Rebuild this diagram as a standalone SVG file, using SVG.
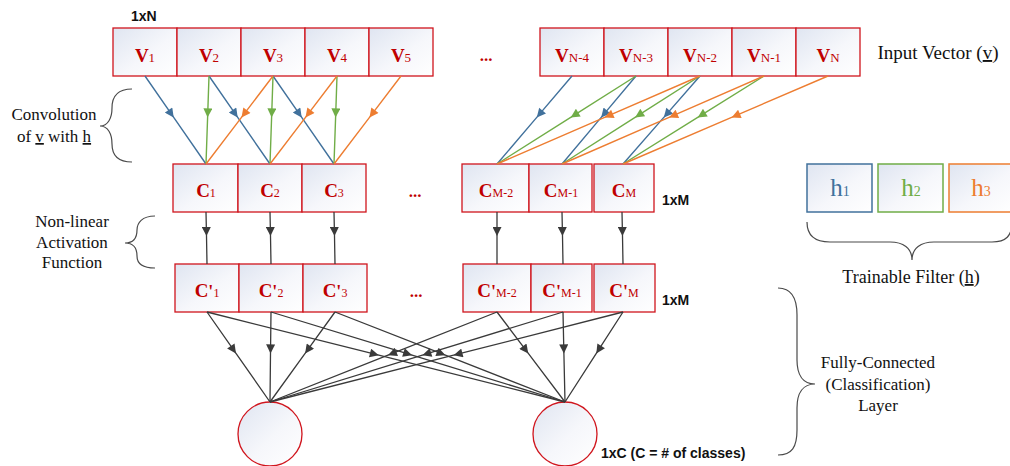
<svg xmlns="http://www.w3.org/2000/svg" width="1010" height="466" viewBox="0 0 1010 466">
  <defs>
    <linearGradient id="boxFill" x1="0" y1="0" x2="1" y2="1">
      <stop offset="0" stop-color="#dfe5f1"/>
      <stop offset="0.55" stop-color="#f6f7fb"/>
      <stop offset="1" stop-color="#ffffff"/>
    </linearGradient>
    <marker id="arB" viewBox="0 0 10 10" refX="10" refY="5" markerWidth="11" markerHeight="9" markerUnits="userSpaceOnUse" orient="auto">
      <path d="M0,0 L10,5 L0,10 z" fill="#41719c"/>
    </marker>
    <marker id="arG" viewBox="0 0 10 10" refX="10" refY="5" markerWidth="11" markerHeight="9" markerUnits="userSpaceOnUse" orient="auto">
      <path d="M0,0 L10,5 L0,10 z" fill="#70ad47"/>
    </marker>
    <marker id="arO" viewBox="0 0 10 10" refX="10" refY="5" markerWidth="11" markerHeight="9" markerUnits="userSpaceOnUse" orient="auto">
      <path d="M0,0 L10,5 L0,10 z" fill="#ed7d31"/>
    </marker>
    <marker id="arD" viewBox="0 0 10 10" refX="10" refY="5" markerWidth="11" markerHeight="9" markerUnits="userSpaceOnUse" orient="auto">
      <path d="M0,0 L10,5 L0,10 z" fill="#3a3a3a"/>
    </marker>
  </defs>
  <style>
    .box { fill: url(#boxFill); stroke: #d0151d; stroke-width: 1.3; }
    .lbl { font-family: "Liberation Serif", "Times New Roman", serif; fill: #c00000; text-anchor: middle; }
    .big { font-weight: bold; font-size: 19px; }
    .sub { font-weight: normal; font-size: 12px; }
    .vsub { font-weight: normal; font-size: 13px; }
    .prime { font-weight: bold; font-size: 18px; }
    .dots { font-family: "Liberation Serif", serif; font-weight: bold; font-size: 17px; fill: #c00000; text-anchor: middle; }
    .note { font-family: "Liberation Serif", "Times New Roman", serif; font-size: 17px; fill: #111; text-anchor: middle; }
    .dim { font-family: "Liberation Sans", Arial, sans-serif; font-weight: bold; font-size: 14px; fill: #111; }
    .brace { fill: none; stroke: #4a4a4a; stroke-width: 1.2; }
    .cb { fill: none; stroke: #41719c; stroke-width: 1.4; marker-mid: url(#arB); }
    .cg { fill: none; stroke: #70ad47; stroke-width: 1.4; marker-mid: url(#arG); }
    .co { fill: none; stroke: #ed7d31; stroke-width: 1.4; marker-mid: url(#arO); }
    .cd { fill: none; stroke: #3a3a3a; stroke-width: 1.3; marker-mid: url(#arD); }
    .hb { font-family: "Liberation Serif", serif; font-size: 25px; text-anchor: middle; }
    .hs { font-size: 14px; }
    .filter { fill: url(#boxFill); stroke-width: 1.5; }
  </style>

  <!-- input vector v -->
  <text class="dim" x="131" y="21">1xN</text>
  <g id="v1"><rect class="box" x="113" y="28" width="64" height="48"/><text class="lbl" x="145" y="62"><tspan class="big">V</tspan><tspan class="vsub">1</tspan></text></g>
  <g id="v2"><rect class="box" x="177" y="28" width="64" height="48"/><text class="lbl" x="209" y="62"><tspan class="big">V</tspan><tspan class="vsub">2</tspan></text></g>
  <g id="v3"><rect class="box" x="241" y="28" width="64" height="48"/><text class="lbl" x="273" y="62"><tspan class="big">V</tspan><tspan class="vsub">3</tspan></text></g>
  <g id="v4"><rect class="box" x="305" y="28" width="64" height="48"/><text class="lbl" x="337" y="62"><tspan class="big">V</tspan><tspan class="vsub">4</tspan></text></g>
  <g id="v5"><rect class="box" x="369" y="28" width="64" height="48"/><text class="lbl" x="401" y="62"><tspan class="big">V</tspan><tspan class="vsub">5</tspan></text></g>
  <text class="dots" x="486" y="61">...</text>
  <g id="vN-4"><rect class="box" x="540" y="28" width="64" height="48"/><text class="lbl" x="572" y="62"><tspan class="big">V</tspan><tspan class="vsub">N-4</tspan></text></g>
  <g id="vN-3"><rect class="box" x="604" y="28" width="64" height="48"/><text class="lbl" x="636" y="62"><tspan class="big">V</tspan><tspan class="vsub">N-3</tspan></text></g>
  <g id="vN-2"><rect class="box" x="668" y="28" width="64" height="48"/><text class="lbl" x="700" y="62"><tspan class="big">V</tspan><tspan class="vsub">N-2</tspan></text></g>
  <g id="vN-1"><rect class="box" x="732" y="28" width="64" height="48"/><text class="lbl" x="764" y="62"><tspan class="big">V</tspan><tspan class="vsub">N-1</tspan></text></g>
  <g id="vN"><rect class="box" x="796" y="28" width="64" height="48"/><text class="lbl" x="828" y="62"><tspan class="big">V</tspan><tspan class="vsub">N</tspan></text></g>
  <text class="note" x="938" y="59" style="font-size:19px">Input Vector (<tspan text-decoration="underline">v</tspan>)</text>

  <!-- convolution outputs c -->
  <g id="c1"><rect class="box" x="173" y="164" width="65" height="48"/><text class="lbl" x="206" y="197"><tspan class="big">C</tspan><tspan class="sub">1</tspan></text></g>
  <g id="c2"><rect class="box" x="238" y="164" width="64" height="48"/><text class="lbl" x="270" y="197"><tspan class="big">C</tspan><tspan class="sub">2</tspan></text></g>
  <g id="c3"><rect class="box" x="302" y="164" width="64" height="48"/><text class="lbl" x="334" y="197"><tspan class="big">C</tspan><tspan class="sub">3</tspan></text></g>
  <text class="dots" x="415" y="197">...</text>
  <g id="cM-2"><rect class="box" x="462" y="164" width="67" height="48"/><text class="lbl" x="496" y="197"><tspan class="big">C</tspan><tspan class="sub">M-2</tspan></text></g>
  <g id="cM-1"><rect class="box" x="529" y="164" width="63" height="48"/><text class="lbl" x="561" y="197"><tspan class="big">C</tspan><tspan class="sub">M-1</tspan></text></g>
  <g id="cM"><rect class="box" x="594" y="164" width="60" height="48"/><text class="lbl" x="624" y="197"><tspan class="big">C</tspan><tspan class="sub">M</tspan></text></g>
  <text class="dim" x="662" y="205">1xM</text>

  <!-- activations c' -->
  <g id="cp1"><rect class="box" x="175" y="264" width="64" height="48"/><text class="lbl" x="207" y="297"><tspan class="big">C</tspan><tspan class="prime" dy="1">'</tspan><tspan class="sub" dy="-1">1</tspan></text></g>
  <g id="cp2"><rect class="box" x="239" y="264" width="64" height="48"/><text class="lbl" x="271" y="297"><tspan class="big">C</tspan><tspan class="prime" dy="1">'</tspan><tspan class="sub" dy="-1">2</tspan></text></g>
  <g id="cp3"><rect class="box" x="303" y="264" width="64" height="48"/><text class="lbl" x="335" y="297"><tspan class="big">C</tspan><tspan class="prime" dy="1">'</tspan><tspan class="sub" dy="-1">3</tspan></text></g>
  <text class="dots" x="416" y="297">...</text>
  <g id="cpM-2"><rect class="box" x="463" y="264" width="68" height="48"/><text class="lbl" x="497" y="297"><tspan class="big">C</tspan><tspan class="prime" dy="1">'</tspan><tspan class="sub" dy="-1">M-2</tspan></text></g>
  <g id="cpM-1"><rect class="box" x="531" y="264" width="61" height="48"/><text class="lbl" x="562" y="297"><tspan class="big">C</tspan><tspan class="prime" dy="1">'</tspan><tspan class="sub" dy="-1">M-1</tspan></text></g>
  <g id="cpM"><rect class="box" x="594" y="264" width="61" height="48"/><text class="lbl" x="624" y="297"><tspan class="big">C</tspan><tspan class="prime" dy="1">'</tspan><tspan class="sub" dy="-1">M</tspan></text></g>
  <text class="dim" x="662" y="305">1xM</text>

  <!-- output classes -->
  <g id="out1"><circle class="box" cx="270" cy="434" r="32"/></g>
  <g id="out2"><circle class="box" cx="565" cy="434" r="32"/></g>
  <text class="dim" x="601" y="458">1xC (C = # of classes)</text>

  <!-- trainable filter h -->
  <g id="h1"><rect class="filter" x="807" y="164" width="65" height="48" stroke="#41719c"/><text class="hb" x="840" y="196" fill="#41719c">h<tspan class="hs">1</tspan></text></g>
  <g id="h2"><rect class="filter" x="878" y="164" width="65" height="48" stroke="#70ad47"/><text class="hb" x="911" y="196" fill="#70ad47">h<tspan class="hs">2</tspan></text></g>
  <g id="h3"><rect class="filter" x="949" y="164" width="65" height="48" stroke="#ed7d31"/><text class="hb" x="981" y="196" fill="#ed7d31">h<tspan class="hs">3</tspan></text></g>

  <!-- braces and side notes -->
  <path class="brace" d="M132,89 C116,89 112,98 112,108 C112,118 108,126 100,126 C108,126 112,134 112,144 C112,154 116,162 132,162"/>
  <text class="note" x="54" y="120">Convolution</text>
  <text class="note" x="54" y="142">of <tspan text-decoration="underline">v</tspan> with <tspan text-decoration="underline">h</tspan></text>

  <path class="brace" d="M155,216 C142,216 137,223 137,230 C137,237 134,243 125,243 C134,243 137,249 137,256 C137,263 142,268 155,268"/>
  <text class="note" x="72" y="227">Non-linear</text>
  <text class="note" x="72" y="248">Activation</text>
  <text class="note" x="72" y="268">Function</text>

  <path class="brace" d="M778,288 C792,288 797,298 797,315 L797,360 C797,375 803,384 815,384 C803,384 797,393 797,408 L797,430 C797,447 792,455 778,455"/>
  <text class="note" x="878" y="368">Fully-Connected</text>
  <text class="note" x="878" y="390">(Classification)</text>
  <text class="note" x="878" y="411">Layer</text>

  <path class="brace" d="M807,222 C807,236 816,242 830,242 L890,242 C903,242 912,248 912,260 C912,248 921,242 934,242 L992,242 C1006,242 1012,236 1012,222"/>
  <text class="note" x="911" y="283" style="font-size:18px">Trainable Filter (<tspan text-decoration="underline">h</tspan>)</text>

  <g id="connectors">
    <!-- h1 taps -->
    <path class="cb" d="M145,76 L173.7,117.4 L206,164"/>
    <path class="cb" d="M209,76 L237.7,117.4 L270,164"/>
    <path class="cb" d="M273,76 L301.7,117.4 L334,164"/>
    <path class="cb" d="M572,76 L536.75,117.4 L497,164"/>
    <path class="cb" d="M636,76 L601.2,117.4 L562,164"/>
    <path class="cb" d="M700,76 L663.8,117.4 L623,164"/>
    <!-- h2 taps -->
    <path class="cg" d="M209,76 L207.6,117.4 L206,164"/>
    <path class="cg" d="M273,76 L271.6,117.4 L270,164"/>
    <path class="cg" d="M337,76 L335.6,117.4 L334,164"/>
    <path class="cg" d="M636,76 L570.7,117.4 L497,164"/>
    <path class="cg" d="M700,76 L635.1,117.4 L562,164"/>
    <path class="cg" d="M764,76 L697.7,117.4 L623,164"/>
    <!-- h3 taps -->
    <path class="co" d="M273,76 L241.5,117.4 L206,164"/>
    <path class="co" d="M337,76 L305.5,117.4 L270,164"/>
    <path class="co" d="M401,76 L369.5,117.4 L334,164"/>
    <path class="co" d="M700,76 L604.6,117.4 L497,164"/>
    <path class="co" d="M764,76 L669.1,117.4 L562,164"/>
    <path class="co" d="M828,76 L731.6,117.4 L623,164"/>
    <!-- activation -->
    <path class="cd" d="M206,212 L206.5,236 L207,264"/>
    <path class="cd" d="M270,212 L270.5,236 L271,264"/>
    <path class="cd" d="M334,212 L334.5,236 L335,264"/>
    <path class="cd" d="M497,212 L497,236 L497,264"/>
    <path class="cd" d="M562,212 L562.5,236 L563,264"/>
    <path class="cd" d="M622,212 L622.5,236 L623,264"/>
    <!-- fully connected -->
    <path class="cd" d="M207,312 L236,353.4 L270,402"/>
    <path class="cd" d="M271,312 L270.5,353.4 L270,402"/>
    <path class="cd" d="M335,312 L305.1,353.4 L270,402"/>
    <path class="cd" d="M497,312 L388,355.2 L270,402"/>
    <path class="cd" d="M563,312 L422.4,355.2 L270,402"/>
    <path class="cd" d="M623,312 L453.6,355.2 L270,402"/>
    <path class="cd" d="M207,312 L378.8,355.2 L565,402"/>
    <path class="cd" d="M271,312 L412.1,355.2 L565,402"/>
    <path class="cd" d="M335,312 L445.4,355.2 L565,402"/>
    <path class="cd" d="M497,312 L528.3,353.4 L565,402"/>
    <path class="cd" d="M563,312 L563.9,353.4 L565,402"/>
    <path class="cd" d="M623,312 L596.3,353.4 L565,402"/>
  </g>
</svg>
